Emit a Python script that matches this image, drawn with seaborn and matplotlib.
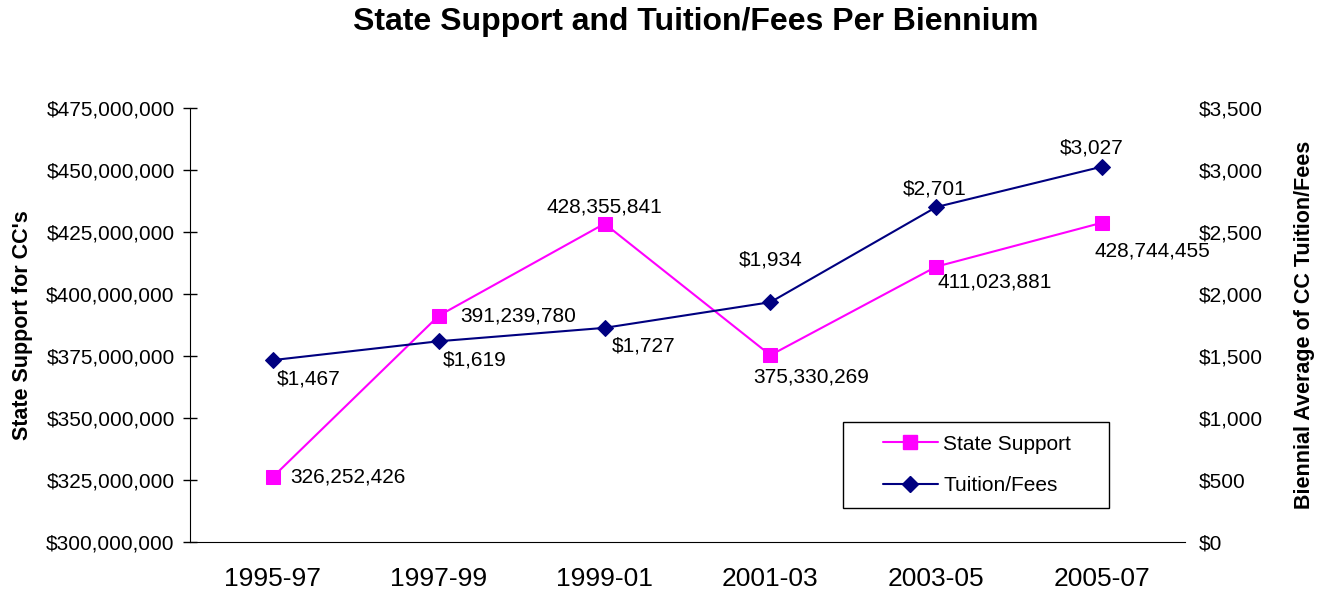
import matplotlib
matplotlib.use("Agg")
import matplotlib.pyplot as plt
import seaborn as sns
from matplotlib.ticker import FuncFormatter, FixedLocator
from matplotlib.lines import Line2D
from matplotlib.patches import Rectangle

sns.set_style("white")
plt.rcParams['font.family'] = ['Liberation Sans', 'DejaVu Sans']
plt.rcParams['text.color'] = 'black'
plt.rcParams['axes.labelcolor'] = 'black'
plt.rcParams['xtick.color'] = 'black'
plt.rcParams['ytick.color'] = 'black'

# data
periods = ['1995-97', '1997-99', '1999-01', '2001-03', '2003-05', '2005-07']
state_support = [326252426, 391239780, 428355841, 375330269, 411023881, 428744455]
tuition_fees = [1467, 1619, 1727, 1934, 2701, 3027]

# label offsets in pixels (dx, dy, ha, va)
state_offsets = [(17, 0, 'left', 'center'), (22, 0, 'left', 'center'), (0, 7, 'center', 'bottom'),
                 (-17, -12, 'left', 'top'), (1, -6, 'left', 'top'), (-8, -19, 'left', 'top')]
tuition_offsets = [(4, -9, 'left', 'top'), (4, -9, 'left', 'top'), (7, -9, 'left', 'top'),
                   (0, 33, 'center', 'bottom'), (-2, 9, 'center', 'bottom'), (-10, 9, 'center', 'bottom')]

pink = '#FF00FF'
navy = '#000080'
fs = 15

fig = plt.figure(figsize=(13.25, 5.96), dpi=100)
ax = fig.add_axes([190 / 1325, 54 / 596, 995 / 1325, 434 / 596])
ax2 = ax.twinx()

x = list(range(len(periods)))
sns.lineplot(x=x, y=state_support, ax=ax, color=pink, marker='s', markersize=10.5,
             markeredgecolor=pink, linewidth=1.5)
sns.lineplot(x=x, y=tuition_fees, ax=ax2, color=navy, marker='D', markersize=8.5,
             markeredgecolor=navy, linewidth=1.5)

ax.set_xlim(-0.5, len(periods) - 0.5)
ax.set_ylim(300000000, 475000000)
ax2.set_ylim(0, 3500)
ax.set_yticks(range(300000000, 475000001, 25000000))
ax2.set_yticks(range(0, 3501, 500))
ax.yaxis.set_major_formatter(FuncFormatter(lambda v, p: f"${v:,.0f}"))
ax2.yaxis.set_major_formatter(FuncFormatter(lambda v, p: f"${v:,.0f}"))

ax.set_xticks(x)
ax.set_xticklabels(periods, fontsize=19)
ax.xaxis.set_minor_locator(FixedLocator([i - 0.5 for i in range(len(periods) + 1)]))
ax.tick_params(axis='x', which='major', length=0, pad=18)
ax.tick_params(axis='x', which='minor', direction='inout', length=10, width=1, color='black')
ax.tick_params(axis='y', direction='inout', length=10, width=1, color='black', labelsize=15,
               left=True, pad=6)
ax2.tick_params(axis='y', length=0, labelsize=15, pad=10)

for s in ['top', 'right']:
    ax.spines[s].set_visible(False)
for s in ['top', 'right', 'left', 'bottom']:
    ax2.spines[s].set_visible(False)
ax.spines['left'].set_color('black')
ax.spines['bottom'].set_color('black')

for i, v in enumerate(state_support):
    dx, dy, ha, va = state_offsets[i]
    ax.annotate(f"{v:,}", (i, v), xytext=(dx, dy), textcoords='offset pixels',
                ha=ha, va=va, fontsize=fs)
for i, v in enumerate(tuition_fees):
    dx, dy, ha, va = tuition_offsets[i]
    ax2.annotate(f"${v:,}", (i, v), xytext=(dx, dy), textcoords='offset pixels',
                 ha=ha, va=va, fontsize=fs)

ax.set_ylabel("State Support for CC's", fontsize=15.5, fontweight='bold')
ax.yaxis.set_label_coords(-157 / 995, 0.5)
ax2.set_ylabel("Biennial Average of CC Tuition/Fees", fontsize=15.5, fontweight='bold')
ax2.yaxis.set_label_coords(1 + 109 / 995, 0.5)

fig.suptitle("State Support and Tuition/Fees Per Biennium", fontsize=23, fontweight='bold',
             x=696 / 1325, y=1 - 7 / 596, va='top')

# legend frame and entries
ax2.add_patch(Rectangle((653 / 995, 34 / 434), 266 / 995, 86 / 434, transform=ax2.transAxes,
                        fill=False, edgecolor='black', linewidth=1, zorder=5, clip_on=False))
handles = [Line2D([], [], color=pink, marker='s', markersize=10.5, linewidth=1.5),
           Line2D([], [], color=navy, marker='D', markersize=8.5, linewidth=1.5)]
ax2.legend(handles, ['State Support', 'Tuition/Fees'], loc='center',
           bbox_to_anchor=(787 / 995, 77 / 434), fontsize=fs, frameon=False,
           handlelength=2.65, labelspacing=1.1, handletextpad=0.25, borderpad=0)

fig.savefig("out.png", dpi=100)
